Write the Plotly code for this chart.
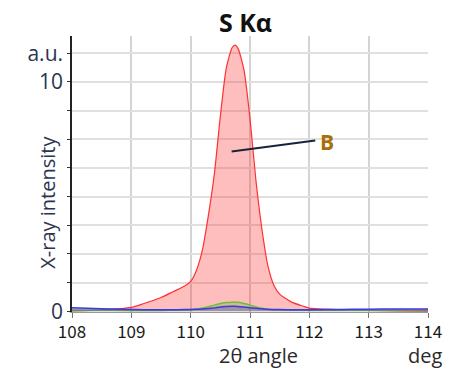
import plotly.graph_objects as go

# 2-theta scan around the S K-alpha line
angle = [108.0, 108.5, 109.0, 109.2, 109.5, 109.7, 109.9, 110.0, 110.1, 110.2,
         110.3, 110.4, 110.5, 110.6, 110.7, 110.75, 110.8, 110.9, 111.0, 111.1,
         111.2, 111.3, 111.4, 111.5, 111.7, 111.9, 112.0, 112.5, 113.0, 113.5, 114.0]

# sample B (dominant peak)
intensity_b = [0.02, 0.06, 0.17, 0.33, 0.6, 0.85, 1.1, 1.3, 1.8, 2.7,
               4.2, 6.0, 8.5, 10.6, 11.5, 11.6, 11.45, 10.5, 8.4, 5.7,
               3.6, 2.0, 1.15, 0.75, 0.4, 0.22, 0.14, 0.07, 0.04, 0.02, 0.01]

# weaker samples
intensity_g = [0.06, 0.05, 0.04, 0.04, 0.04, 0.05, 0.06, 0.07, 0.1, 0.14,
               0.2, 0.27, 0.34, 0.38, 0.4, 0.4, 0.39, 0.34, 0.27, 0.19,
               0.13, 0.09, 0.07, 0.06, 0.05, 0.05, 0.05, 0.05, 0.05, 0.05, 0.05]

intensity_v = [0.15, 0.11, 0.08, 0.07, 0.07, 0.07, 0.08, 0.08, 0.09, 0.1,
               0.12, 0.15, 0.19, 0.21, 0.22, 0.22, 0.21, 0.19, 0.16, 0.13,
               0.11, 0.09, 0.08, 0.08, 0.07, 0.07, 0.07, 0.08, 0.09, 0.1, 0.1]

y_tickvals = [0, 1.25, 2.5, 3.75, 5, 6.25, 7.5, 8.75, 10, 11.25]
y_ticktext = ["0", "", "", "", "", "", "", "", "10", "a.u."]
x_tickvals = [108, 109, 110, 111, 112, 113, 114]

# plot-area geometry in pixels, used to place the free-standing labels
L, R, T, B = 72, 16, 36, 59
W, H = 454, 371
PW, PH = W - L - R, H - T - B


def px_x(x):
    return (x - L) / PW


def px_y(y):
    return (H - B - y) / PH


fig = go.Figure()
fig.add_trace(go.Scatter(x=angle, y=intensity_b, mode="lines", fill="tozeroy",
                         line=dict(color="#ff3030", width=1.2, shape="spline", smoothing=0.6),
                         fillcolor="rgba(255,40,40,0.30)", name="B"))
fig.add_trace(go.Scatter(x=angle, y=intensity_g, mode="lines", fill="tozeroy",
                         line=dict(color="#6cbf3a", width=1.5, shape="spline"),
                         fillcolor="rgba(110,190,60,0.35)", name="G"))
fig.add_trace(go.Scatter(x=angle, y=intensity_v, mode="lines", fill="tozeroy",
                         line=dict(color="#3a3ae0", width=1.5, shape="spline"),
                         fillcolor="rgba(70,70,200,0.35)", name="V"))

# leader line for the "B" label
fig.add_shape(type="line", x0=110.69, y0=6.97, x1=112.1, y1=7.45,
              xref="x", yref="y", line=dict(color="#14243c", width=2))
fig.add_annotation(x=112.15, y=7.4, xref="x", yref="y", text="<b>B</b>",
                   showarrow=False, xanchor="left", yanchor="middle",
                   font=dict(family="Open Sans", size=21, color="#a86e08"))

fig.add_annotation(x=px_x(250), y=px_y(22), xref="paper", yref="paper",
                   text="<b>S Kα</b>", showarrow=False,
                   xanchor="center", yanchor="middle",
                   font=dict(family="Open Sans", size=25, color="#111"))
fig.add_annotation(x=px_x(264), y=px_y(355), xref="paper", yref="paper",
                   text="2θ angle", showarrow=False, xanchor="center", yanchor="middle",
                   font=dict(family="Open Sans", size=20, color="#2a2a2a"))
fig.add_annotation(x=px_x(454), y=px_y(355), xref="paper", yref="paper",
                   text="deg", showarrow=False, xanchor="right", yanchor="middle",
                   font=dict(family="Open Sans", size=20, color="#2a2a2a"))
fig.add_annotation(x=px_x(46), y=px_y(202), xref="paper", yref="paper",
                   text="X-ray intensity", showarrow=False, textangle=-90,
                   xanchor="center", yanchor="middle",
                   font=dict(family="Open Sans", size=20, color="#2b3550"))

fig.update_layout(
    width=W, height=H,
    margin=dict(l=L, r=R, t=T, b=B),
    paper_bgcolor="white", plot_bgcolor="white",
    showlegend=False,
    xaxis=dict(range=[108, 114], tickvals=x_tickvals, showgrid=True,
               gridcolor="#d4d4d4", gridwidth=1.5, zeroline=False,
               ticks="outside", ticklen=5, tickcolor="#777",
               showline=True, linecolor="#999", linewidth=1,
               tickfont=dict(family="Noto Sans CJK JP", size=17, color="#1a1a1a")),
    yaxis=dict(range=[-0.03, 12.0], tickvals=y_tickvals, ticktext=y_ticktext,
               showgrid=True, gridcolor="#e0e0e0", gridwidth=1.5, zeroline=False,
               ticks="outside", ticklen=3, tickcolor="#333",
               showline=True, linecolor="#222", linewidth=1.5,
               tickfont=dict(family="Open Sans", size=21, color="#2b3550")),
)

fig.write_html("out.html")
